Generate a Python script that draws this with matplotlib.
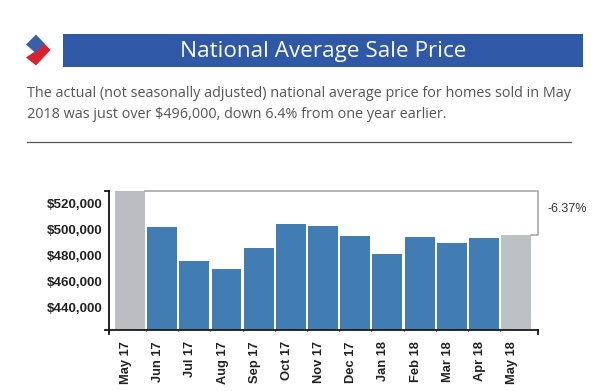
# National average sale price chart

import matplotlib
matplotlib.use("Agg")
import matplotlib.pyplot as plt
from matplotlib.patches import Polygon, Rectangle
from matplotlib.transforms import ScaledTranslation

# Data
months = ["May 17", "Jun 17", "Jul 17", "Aug 17", "Sep 17", "Oct 17", "Nov 17",
          "Dec 17", "Jan 18", "Feb 18", "Mar 18", "Apr 18", "May 18"]
prices = [530000, 502500, 476400, 470000, 486300, 504600, 502700,
          495000, 481700, 494400, 490300, 494200, 496000]
ytick_values = [440000, 460000, 480000, 500000, 520000]
change_label = "-6.37%"

W, H = 600, 391
BLUE = "#417db3"
GREY = "#bcbdc1"
TEXT = "#555555"

fig = plt.figure(figsize=(W / 100, H / 100), dpi=100, facecolor="white")

# page level layer in pixel coordinates
page = fig.add_axes([0, 0, 1, 1])
page.set_xlim(0, W)
page.set_ylim(H, 0)
page.axis("off")

# logo
page.add_patch(Polygon([(44, 43), (50.5, 50), (36, 65.5), (26, 57.5), (37, 50)], color="#d8232f", lw=0))
page.add_patch(Polygon([(36, 34.5), (26, 44.5), (35.5, 53), (44.5, 43.5)], color="#3a5fa8", lw=0))

# header band
page.add_patch(Rectangle((63, 34), 520, 32.5, color="#2f58a6", lw=0))
page.text(323.5, 52, "National Average Sale Price", color="white", fontsize=16.2,
          family="Open Sans", ha="center", va="center")

# intro text
page.text(27, 93.5, "The actual (not seasonally adjusted) national average price for homes sold in May",
          color=TEXT, fontsize=10.4, family="Open Sans", ha="left", va="center")
page.text(27, 115, "2018 was just over $496,000, down 6.4% from one year earlier.",
          color=TEXT, fontsize=10.4, family="Open Sans", ha="left", va="center")
page.plot([27, 571], [141.5, 141.5], color="#555555", lw=0.9)

# chart
ax = fig.add_axes([109 / W, 1 - 330 / H, (538 - 109) / W, (330 - 191) / H])
ax.patch.set_alpha(0)

x = list(range(len(months)))
colors = [GREY] + [BLUE] * (len(months) - 2) + ["#bcc1c4"]
ax.bar(x, prices, width=0.93, color=colors, linewidth=0)

ax.set_xlim(-0.653, 12.68)
ax.set_ylim(423000, 530000)

# bracket between first and last month
ax.plot([0.47, 12.68, 12.68, 12.47],
        [prices[0], prices[0], prices[-1], prices[-1]],
        color="#a0a0a0", lw=1.1, clip_on=False, zorder=1)
ax.text(548 / W, 1 - 209 / H, change_label, transform=fig.transFigure, fontsize=9,
        family="Liberation Sans", color="#333333", ha="left", va="center")

for side in ["top", "right"]:
    ax.spines[side].set_visible(False)
ax.spines["left"].set_linewidth(1.3)
ax.spines["bottom"].set_linewidth(1.3)
ax.spines["left"].set_color("#111111")
ax.spines["bottom"].set_color("#1a1a1a")

ax.set_yticks(ytick_values)
ax.set_yticklabels([f"${v:,.0f}" for v in ytick_values], fontsize=9.6,
                   family="Liberation Sans", weight="bold", color="#222222")
ax.tick_params(axis="y", length=0, pad=5)

ax.set_xticks(x)
ax.set_xticklabels(months, rotation=90, fontsize=9.3, family="Liberation Sans",
                   weight="bold", color="#222222", ha="center", va="top")
ax.tick_params(axis="x", length=0, pad=8)
shift = ScaledTranslation(-4 / 100, 0, fig.dpi_scale_trans)
for label in ax.get_xticklabels():
    label.set_transform(label.get_transform() + shift)

# small ticks between bars
ax.set_xticks([i + 0.5 for i in x[:-1]], minor=True)
ax.tick_params(axis="x", which="minor", length=1, width=1, color="#111111")

# end ticks on the axes
page.plot([105, 109], [191, 191], color="#111111", lw=1.3)
page.plot([105, 109], [330, 330], color="#111111", lw=1.3)
page.plot([109, 109], [330, 334], color="#111111", lw=1.3)
page.plot([538, 538], [330, 334], color="#111111", lw=1.3)

fig.savefig("out.png", dpi=100)
plt.close(fig)
